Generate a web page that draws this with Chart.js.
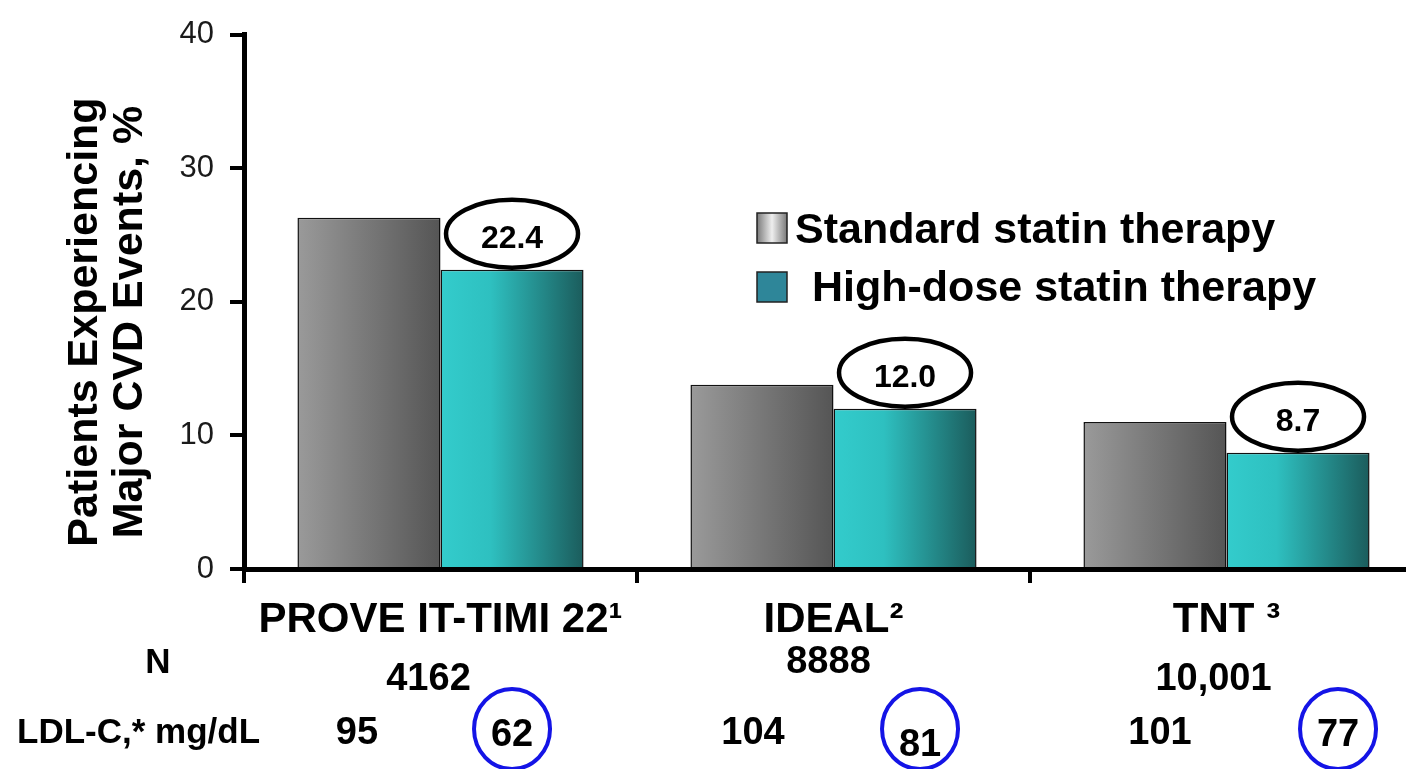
<!DOCTYPE html>
<html>
<head>
<meta charset="utf-8">
<title>Major CVD events: standard vs high-dose statin therapy</title>
<script src="https://cdn.jsdelivr.net/npm/chart.js@4/dist/chart.umd.min.js"></script>
<style>
  html, body { margin: 0; padding: 0; background: #fff; overflow: hidden; }
  #wrap { position: relative; width: 1430px; height: 769px; }
  canvas { display: block; }
</style>
</head>
<body>
<div id="wrap"><canvas id="chart" width="1430" height="769"></canvas></div>
<script>
// ---- data ----
const trials = ['PROVE IT-TIMI 22\u00B9', 'IDEAL\u00B2', 'TNT \u00B3'];
const seriesNames = ['Standard statin therapy', 'High-dose statin therapy'];
const standardEvents = [26.3, 13.8, 11.0];
const highDoseEvents = [22.4, 12.0, 8.7];
const yTicks = [0, 10, 20, 30, 40];
const trialSizes = ['4162', '8888', '10,001'];
const ldlStandard = [95, 104, 101];
const ldlHighDose = [62, 81, 77];
const yTitleLines = ['Patients Experiencing', 'Major CVD Events, %'];
const rowLabels = ['N', 'LDL-C,* mg/dL'];

// ---- styling ----
const FONT = "'Liberation Sans', Arial, sans-serif";
const CAT_PCT = 0.728;
const greyStops = [[0, '#9a9a9a'], [1, '#555555']];
const tealStops = [[0, '#33cccc'], [0.35, '#2ec0c0'], [1, '#1b5c5c']];

function barGradient(ctx, stops) {
  const chart = ctx.chart;
  const xs = chart.scales.x;
  if (ctx.type !== 'data' || !xs || !xs.width) return stops[stops.length - 1][1];
  const catW = xs.width / trials.length;
  const barW = catW * CAT_PCT / 2;
  const c = xs.getPixelForValue(ctx.dataIndex);
  const left = ctx.datasetIndex === 0 ? c - barW : c;
  const g = chart.ctx.createLinearGradient(left, 0, left + barW, 0);
  stops.forEach(([o, col]) => g.addColorStop(o, col));
  return g;
}

// rotated two-line y-axis title
const yTitlePlugin = {
  id: 'yTitle',
  afterDraw(chart) {
    const c = chart.ctx;
    c.save();
    c.fillStyle = '#000';
    c.font = 'bold 43px ' + FONT;
    c.textAlign = 'center';
    c.textBaseline = 'alphabetic';
    const baseX = [97, 142];
    yTitleLines.forEach((t, i) => {
      c.save();
      c.translate(baseX[i], 322);
      c.rotate(-Math.PI / 2);
      c.fillText(t, 0, 0);
      c.restore();
    });
    c.restore();
  }
};

// legend drawn inside the plot
const legendPlugin = {
  id: 'innerLegend',
  afterDraw(chart) {
    const c = chart.ctx;
    c.save();
    const sx = 757, size = 30;
    const rows = [
      { top: 213, textX: 795, base: 243 },
      { top: 272, textX: 812, base: 301 }
    ];
    rows.forEach((r, i) => {
      let fill;
      if (i === 0) {
        fill = c.createLinearGradient(sx, 0, sx + size, 0);
        fill.addColorStop(0, '#7a7a7a');
        fill.addColorStop(0.5, '#eeeeee');
        fill.addColorStop(1, '#7a7a7a');
      } else {
        fill = '#2e8699';
      }
      c.fillStyle = fill;
      c.fillRect(sx, r.top, size, size);
      c.lineWidth = 1.5;
      c.strokeStyle = '#222';
      c.strokeRect(sx, r.top, size, size);
      c.fillStyle = '#000';
      c.font = 'bold 43px ' + FONT;
      c.textAlign = 'left';
      c.textBaseline = 'alphabetic';
      c.fillText(seriesNames[i], r.textX, r.base);
    });
    c.restore();
  }
};

// circled value labels above the high-dose bars
const valueBubblePlugin = {
  id: 'valueBubbles',
  afterDatasetsDraw(chart) {
    const c = chart.ctx;
    const meta = chart.getDatasetMeta(1);
    c.save();
    meta.data.forEach((bar, i) => {
      const cy = bar.y - 36;
      c.beginPath();
      c.ellipse(bar.x, cy, 66, 34, 0, 0, Math.PI * 2);
      c.fillStyle = '#fff';
      c.fill();
      c.lineWidth = 4.5;
      c.strokeStyle = '#000';
      c.stroke();
      c.fillStyle = '#000';
      c.font = 'bold 32px ' + FONT;
      c.textAlign = 'center';
      c.textBaseline = 'alphabetic';
      c.fillText(highDoseEvents[i].toFixed(1), bar.x, cy + 14.5);
    });
    c.restore();
  }
};

// table rows under the axis: trial size and LDL-C levels
const tablePlugin = {
  id: 'underTable',
  afterDraw(chart) {
    const c = chart.ctx;
    const xs = chart.scales.x;
    const catW = xs.width / trials.length;
    const barW = catW * CAT_PCT / 2;
    const nShift = [-12, -5, -13];
    const nBase = [690, 673, 690];
    const stdShift = [-12, -9, 5];
    const highShift = [0, 15, 40];
    const highBase = [746, 756, 746];
    c.save();
    c.fillStyle = '#000';
    c.textBaseline = 'alphabetic';
    c.font = 'bold 35px ' + FONT;
    c.textAlign = 'center';
    c.fillText(rowLabels[0], 158, 673);
    c.textAlign = 'left';
    c.fillText(rowLabels[1], 17, 743);
    c.textAlign = 'center';
    c.font = 'bold 38px ' + FONT;
    trials.forEach((t, i) => {
      const cx = xs.getPixelForValue(i);
      c.fillStyle = '#000';
      c.fillText(trialSizes[i], cx + nShift[i], nBase[i]);
      c.fillText(String(ldlStandard[i]), cx - barW / 2 + stdShift[i], 744);
      const hx = cx + barW / 2 + highShift[i];
      c.fillText(String(ldlHighDose[i]), hx, highBase[i]);
      c.beginPath();
      c.ellipse(hx, 729, 38, 40, 0, 0, Math.PI * 2);
      c.lineWidth = 4;
      c.strokeStyle = '#1414e6';
      c.stroke();
    });
    c.restore();
  }
};

new Chart(document.getElementById('chart'), {
  type: 'bar',
  data: {
    labels: trials,
    datasets: [
      {
        label: seriesNames[0],
        data: standardEvents,
        backgroundColor: (ctx) => barGradient(ctx, greyStops),
        borderColor: '#111',
        borderWidth: 1.5,
        barPercentage: 1.0,
        categoryPercentage: CAT_PCT
      },
      {
        label: seriesNames[1],
        data: highDoseEvents,
        backgroundColor: (ctx) => barGradient(ctx, tealStops),
        borderColor: '#111',
        borderWidth: 1.5,
        barPercentage: 1.0,
        categoryPercentage: CAT_PCT
      }
    ]
  },
  options: {
    responsive: false,
    animation: false,
    layout: { autoPadding: false, padding: { top: 34, right: 7, left: 0, bottom: 0 } },
    plugins: { legend: { display: false }, tooltip: { enabled: false }, title: { display: false } },
    scales: {
      x: {
        type: 'category',
        offset: true,
        afterFit(scale) { scale.height = 200; },
        grid: { offset: true, drawOnChartArea: false, drawTicks: true, tickLength: 14, color: '#000', lineWidth: 4 },
        border: { display: true, color: '#000', width: 5 },
        ticks: {
          color: '#000',
          font: { family: FONT, size: 42, weight: 'bold' },
          padding: 12,
          maxRotation: 0,
          autoSkip: false
        }
      },
      y: {
        min: 0,
        max: 40,
        afterFit(scale) { scale.width = 244; },
        afterBuildTicks(scale) { scale.ticks = yTicks.map(v => ({ value: v })); },
        grid: { drawOnChartArea: false, drawTicks: true, tickLength: 14, color: '#000', lineWidth: 4 },
        border: { display: true, color: '#000', width: 5 },
        ticks: {
          color: '#1a1a1a',
          font: { family: FONT, size: 31 },
          padding: 16
        }
      }
    }
  },
  plugins: [yTitlePlugin, legendPlugin, valueBubblePlugin, tablePlugin]
});
</script>
</body>
</html>
